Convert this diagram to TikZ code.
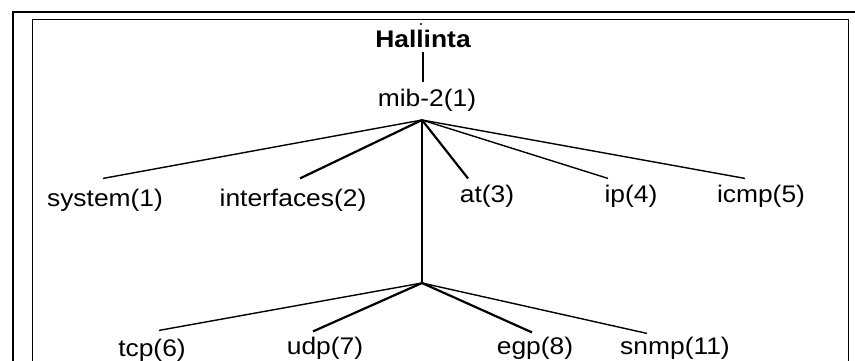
\documentclass[tikz,border=0pt]{standalone}
\usepackage{fontspec}
\setmainfont{Liberation Sans}
\begin{document}
\begin{tikzpicture}[x=1pt,y=-1pt,
  label/.style={inner sep=0pt, anchor=base, xscale=1.1, font=\fontsize{24}{28}\selectfont},
  thinline/.style={line width=1.4pt},
  thickline/.style={line width=2.2pt}]
\clip (0,0) rectangle (855,360);
% double frame
\draw[line width=2.6pt] (13,365) -- (13,12) -- (860,12);
\draw[line width=1pt] (32,365) -- (32,19) -- (848,19) -- (848,365);
% root and first level
\fill (421,24) circle (1.2pt);
\node[label, font=\fontsize{24}{28}\selectfont\bfseries] (root) at (423,47) {Hallinta};
\node[label] (mib) at (427,106) {mib-2(1)};
\coordinate (hub) at (422,120);
\coordinate (hub2) at (422,283);
\draw[thickline] (423,52) -- (423,82);
\node[label] (sys) at (105,206) {system(1)};
\node[label] (ifs) at (293,206) {interfaces(2)};
\node[label] (at) at (487,202) {at(3)};
\node[label] (ip) at (631,202) {ip(4)};
\node[label] (icmp) at (761,202) {icmp(5)};
\node[label] (tcp) at (152,356) {tcp(6)};
\node[label] (udp) at (325,354) {udp(7)};
\node[label] (egp) at (535,354) {egp(8)};
\node[label] (snmp) at (675,354) {snmp(11)};
% connectors
\draw[thinline] (hub) -- ([xshift=-2pt,yshift=10pt]sys.north);
\draw[thickline] (hub) -- ([xshift=7pt,yshift=10pt]ifs.north);
\draw[thickline] (hub) -- ([xshift=-19pt,yshift=6pt]at.north);
\draw[thinline] (hub) -- ([xshift=-23pt,yshift=6pt]ip.north);
\draw[thinline] (hub) -- ([xshift=-16pt,yshift=6pt]icmp.north);
\draw[thickline] (hub) -- (hub2);
\draw[thinline] (hub2) -- ([xshift=7pt,yshift=8pt]tcp.north);
\draw[thickline] (hub2) -- ([xshift=-12pt,yshift=5pt]udp.north);
\draw[thickline] (hub2) -- ([xshift=-3pt,yshift=4pt]egp.north);
\draw[thinline] (hub2) -- ([xshift=-28pt,yshift=3pt]snmp.north);
\end{tikzpicture}
\end{document}
